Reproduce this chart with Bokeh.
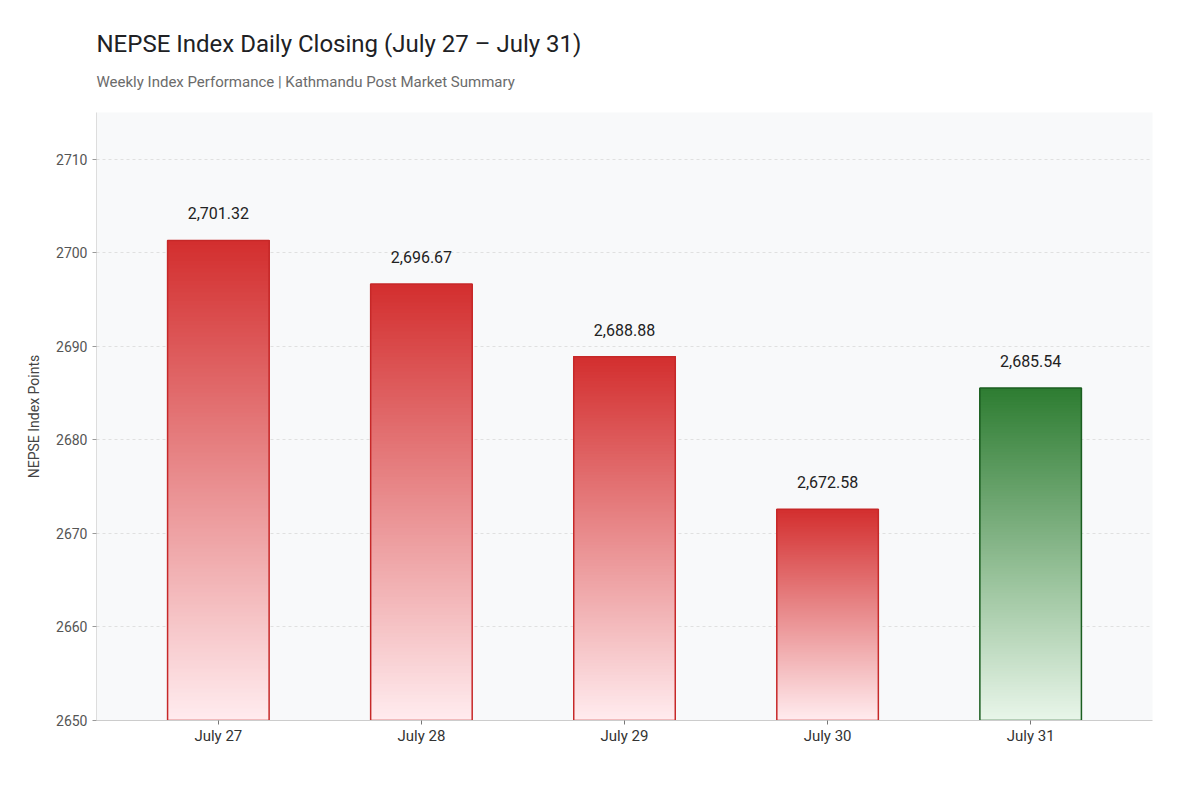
from bokeh.plotting import figure
from bokeh.models import ColumnDataSource, FactorRange, Range1d, Title, NumeralTickFormatter
from bokeh.embed import file_html
from bokeh.resources import INLINE
from bokeh.core.properties import value

# Data
days = ["July 27", "July 28", "July 29", "July 30", "July 31"]
closing = [2701.32, 2696.67, 2688.88, 2672.58, 2685.54]
labels = ["2,701.32", "2,696.67", "2,688.88", "2,672.58", "2,685.54"]
y_ticks = [2650, 2660, 2670, 2680, 2690, 2700, 2710]

BASE = 2650
FONT = "Roboto"


def hex_to_rgb(h):
    h = h.lstrip("#")
    return tuple(int(h[i:i + 2], 16) for i in (0, 2, 4))


def mix(c1, c2, t):
    a, b = hex_to_rgb(c1), hex_to_rgb(c2)
    return "#" + "".join(f"{int(round(a[i] + (b[i] - a[i]) * t)):02x}" for i in range(3))


# Red for falling days, green for the gain on the last day
top_cols = ["#d32f2f"] * 4 + ["#2e7d32"]
bottom_cols = ["#ffebee"] * 4 + ["#e8f5e9"]
line_cols = ["#c62828"] * 4 + ["#1b5e20"]

# Gradient fill: bokeh has none, so stack overlapping bands that each reach the bar top
n_steps = 120
sx, sb, st, sc = [], [], [], []
for d, v, c_top, c_bot in zip(days, closing, top_cols, bottom_cols):
    h = (v - BASE) / n_steps
    for k in range(n_steps):
        sx.append(d)
        sb.append(BASE + k * h)
        st.append(v)
        sc.append(mix(c_bot, c_top, k / (n_steps - 1)))

slices = ColumnDataSource(data=dict(x=sx, bottom=sb, top=st, color=sc))
bars = ColumnDataSource(data=dict(x=days, top=closing, line=line_cols, label=labels))

p = figure(width=1184, height=784,
           x_range=FactorRange(*days, range_padding=0.04),
           y_range=Range1d(2650, 2715),
           output_backend="svg", toolbar_location=None,
           background_fill_color="#f8f9fa", border_fill_color="white",
           min_border_left=96, min_border_right=32, min_border_bottom=64,
           min_border_top=112)

p.vbar(x="x", bottom="bottom", top="top", width=0.5, source=slices,
       fill_color="color", line_color=None)
p.vbar(x="x", bottom=BASE, top="top", width=0.5, source=bars,
       fill_alpha=0, line_color="line", line_width=1.5)

p.text(x="x", y="top", text="label", source=bars, y_offset=-21,
       text_align="center", text_baseline="bottom",
       text_font=value(FONT), text_font_size="16px", text_color="#222222")

# Titles
p.title.visible = False
p.add_layout(Title(text="Weekly Index Performance | Kathmandu Post Market Summary",
                   text_font=FONT, text_font_size="15px", text_font_style="normal",
                   text_color="#6b6b6b", align="left", standoff=43), "above")
p.add_layout(Title(text="NEPSE Index Daily Closing (July 27 \u2013 July 31)",
                   text_font=FONT, text_font_size="24px", text_font_style="normal",
                   text_color="#202124", align="left", standoff=-16), "above")

# Axes
p.yaxis.ticker = y_ticks
p.yaxis.formatter = NumeralTickFormatter(format="0")
p.yaxis.axis_label = "NEPSE Index Points"
p.yaxis.axis_label_text_font = FONT
p.yaxis.axis_label_text_font_size = "14px"
p.yaxis.axis_label_text_font_style = "normal"
p.yaxis.axis_label_text_color = "#444444"
p.yaxis.axis_label_standoff = 11
p.yaxis.major_label_text_font = FONT
p.yaxis.major_label_text_font_size = "14px"
p.yaxis.major_label_text_color = "#555555"
p.yaxis.axis_line_color = "#dddddd"
p.yaxis.major_tick_line_color = "#999999"
p.yaxis.major_tick_in = 0
p.yaxis.major_tick_out = 4
p.yaxis.minor_tick_line_color = None

p.xaxis.major_label_text_font = FONT
p.xaxis.major_label_text_font_size = "15px"
p.xaxis.major_label_text_color = "#333333"
p.xaxis.major_label_standoff = 2
p.xaxis.axis_line_color = "#cccccc"
p.xaxis.major_tick_line_color = "#777777"
p.xaxis.major_tick_in = 0
p.xaxis.major_tick_out = 4

p.xgrid.grid_line_color = None
p.ygrid.grid_line_color = "#e0e0e0"
p.ygrid.grid_line_dash = "3 3"
p.outline_line_color = None

open("out.html", "w").write(file_html(p, INLINE))
